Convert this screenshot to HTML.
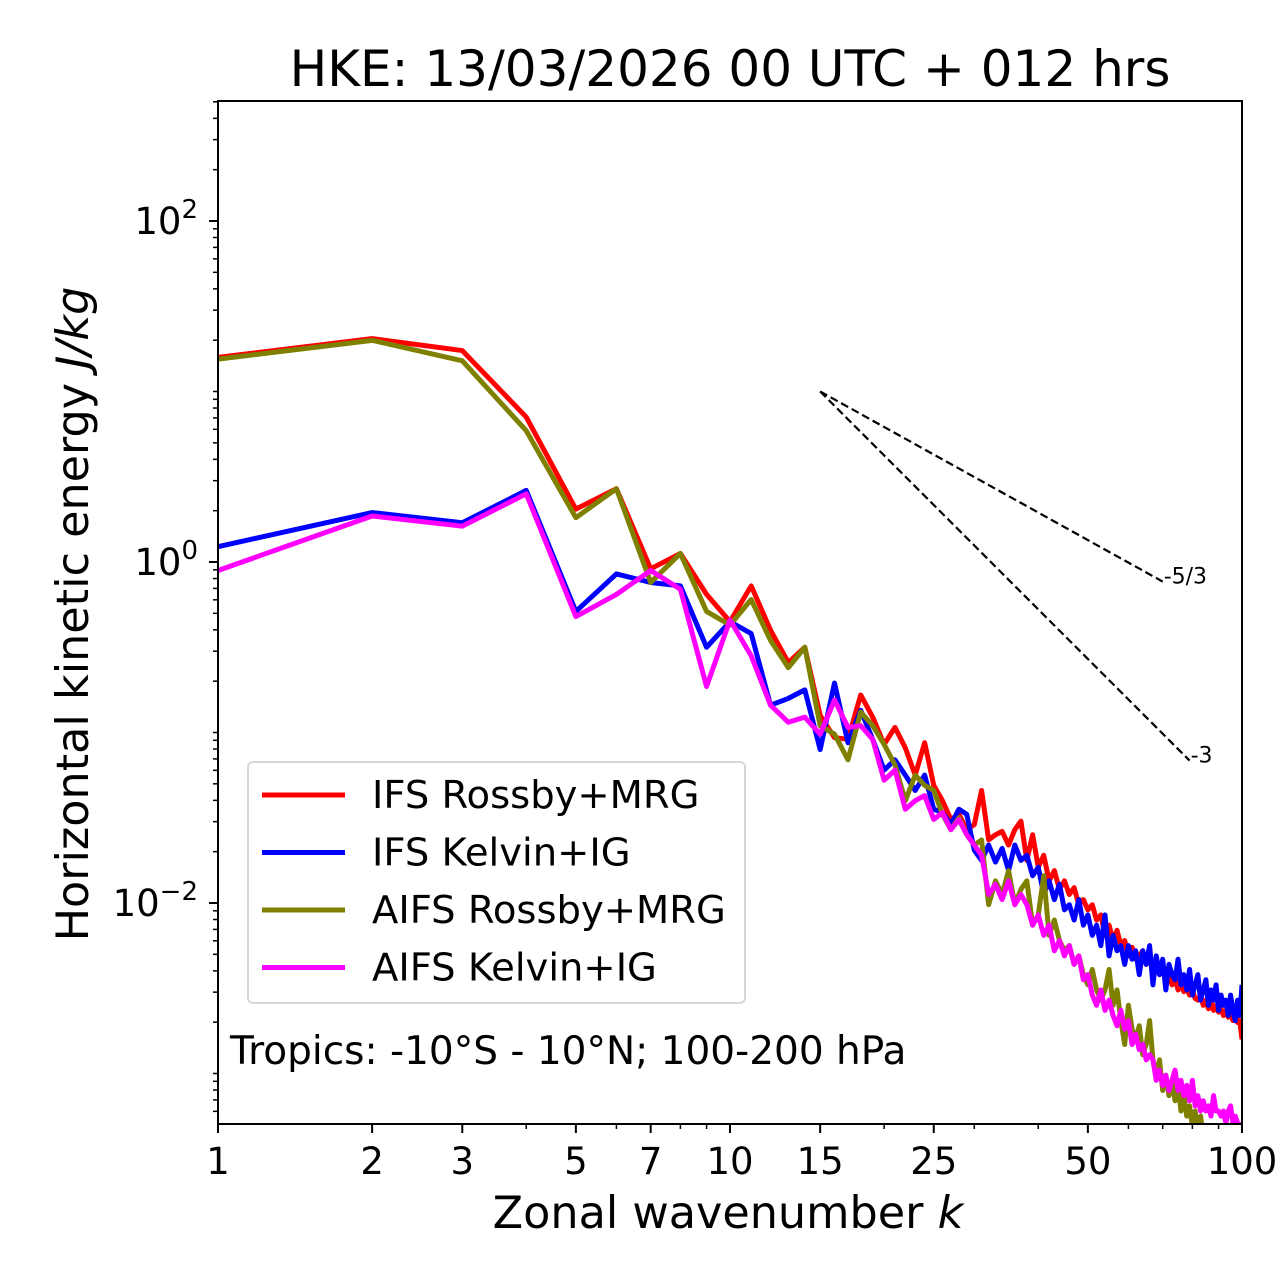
<!DOCTYPE html>
<html><head><meta charset="utf-8">
<style>
html,body{margin:0;padding:0;background:#fff;}
svg{display:block;font-family:"DejaVu Sans","Liberation Sans",sans-serif;}
</style></head>
<body>
<svg id="chart" width="1280" height="1288" viewBox="0 0 1280 1288" xmlns="http://www.w3.org/2000/svg">
<rect width="1280" height="1288" fill="#fff"/>
<text x="730" y="86" font-size="50" text-anchor="middle">HKE: 13/03/2026 00 UTC + 012 hrs</text>
<defs><clipPath id="plotclip"><rect x="218" y="101" width="1024" height="1023"/></clipPath></defs>
<g id="series" clip-path="url(#plotclip)"></g>
<g id="refs"></g>
<g id="axes"></g>
<text x="728" y="1228" font-size="44.5" text-anchor="middle">Zonal wavenumber <tspan font-style="italic">k</tspan></text>
<text transform="translate(88,614) rotate(-90)" font-size="44.5" text-anchor="middle">Horizontal kinetic energy <tspan font-style="italic">J/kg</tspan></text>
<g>
<rect x="248" y="762" width="497" height="241" rx="5" fill="#fff" fill-opacity="0.8" stroke="#d6d6d6" stroke-width="2"/>
<g id="legend-entries"></g>
</g>
<text x="230" y="1064" font-size="39">Tropics: -10°S - 10°N; 100-200 hPa</text>
</svg>
<script>
const wavenumbers = Array.from({length:100},(_,i)=>i+1);
const ifsRossbyLog = [1.20,1.31,1.24,0.85,0.31,0.43,-0.04,0.05,-0.19,-0.35,-0.14,-0.40,-0.59,-0.50,-0.90,-1.03,-1.04,-0.78,-0.91,-1.07,-0.97,-1.09,-1.25,-1.06,-1.31,-1.40,-1.51,-1.48,-1.57,-1.54,-1.34,-1.63,-1.60,-1.58,-1.66,-1.57,-1.52,-1.75,-1.60,-1.79,-1.72,-1.87,-1.81,-1.92,-1.87,-1.95,-1.91,-2.01,-1.98,-2.04,-2.01,-2.10,-2.07,-2.19,-2.13,-2.22,-2.16,-2.25,-2.22,-2.31,-2.26,-2.33,-2.31,-2.28,-2.36,-2.33,-2.40,-2.38,-2.42,-2.39,-2.45,-2.42,-2.48,-2.44,-2.51,-2.48,-2.52,-2.50,-2.54,-2.51,-2.56,-2.57,-2.54,-2.60,-2.57,-2.62,-2.58,-2.63,-2.60,-2.64,-2.62,-2.66,-2.63,-2.67,-2.64,-2.69,-2.66,-2.70,-2.69,-2.80];
const ifsKelvinLog = [0.09,0.29,0.23,0.42,-0.29,-0.07,-0.12,-0.14,-0.50,-0.35,-0.42,-0.84,-0.80,-0.75,-1.10,-0.71,-1.06,-0.87,-1.04,-1.22,-1.16,-1.25,-1.34,-1.25,-1.45,-1.47,-1.54,-1.45,-1.48,-1.69,-1.75,-1.66,-1.76,-1.68,-1.81,-1.66,-1.75,-1.72,-1.84,-1.79,-1.95,-1.87,-1.98,-1.89,-2.04,-2.01,-2.10,-1.98,-2.13,-2.07,-2.19,-2.13,-2.25,-2.07,-2.31,-2.19,-2.28,-2.25,-2.36,-2.25,-2.33,-2.28,-2.42,-2.28,-2.36,-2.25,-2.48,-2.31,-2.42,-2.33,-2.51,-2.36,-2.42,-2.45,-2.33,-2.48,-2.42,-2.51,-2.39,-2.54,-2.48,-2.42,-2.57,-2.51,-2.45,-2.60,-2.51,-2.57,-2.48,-2.63,-2.54,-2.60,-2.57,-2.66,-2.54,-2.63,-2.69,-2.57,-2.66,-2.48];
const aifsRossbyLog = [1.19,1.30,1.18,0.77,0.26,0.43,-0.12,0.05,-0.29,-0.37,-0.22,-0.46,-0.62,-0.50,-0.96,-1.01,-1.16,-0.88,-0.96,-1.07,-1.19,-1.40,-1.25,-1.31,-1.34,-1.48,-1.57,-1.50,-1.60,-1.66,-1.63,-2.01,-1.87,-1.95,-1.81,-2.01,-1.92,-1.87,-2.13,-2.07,-1.84,-2.19,-2.10,-2.22,-2.28,-2.25,-2.36,-2.31,-2.42,-2.48,-2.39,-2.51,-2.57,-2.51,-2.39,-2.60,-2.51,-2.69,-2.83,-2.60,-2.74,-2.80,-2.72,-2.89,-2.83,-2.69,-2.92,-3.01,-2.92,-3.10,-3.01,-3.13,-3.04,-3.16,-3.07,-3.22,-3.13,-3.25,-3.19,-3.31,-3.22,-3.34,-3.25,-3.37,-3.40,-3.35,-3.45,-3.40,-3.50,-3.45,-3.50,-3.55,-3.50,-3.60,-3.55,-3.60,-3.65,-3.60,-3.70,-3.65];
const aifsKelvinLog = [-0.05,0.27,0.21,0.40,-0.32,-0.19,-0.05,-0.16,-0.73,-0.34,-0.55,-0.84,-0.94,-0.91,-1.01,-0.81,-0.97,-0.96,-1.04,-1.28,-1.22,-1.45,-1.40,-1.37,-1.51,-1.47,-1.57,-1.51,-1.60,-1.66,-1.72,-1.95,-1.89,-1.98,-1.87,-2.01,-1.95,-2.01,-2.13,-2.07,-2.19,-2.13,-2.28,-2.22,-2.31,-2.25,-2.36,-2.31,-2.45,-2.42,-2.54,-2.60,-2.51,-2.63,-2.57,-2.66,-2.72,-2.63,-2.74,-2.69,-2.83,-2.77,-2.86,-2.83,-2.92,-2.89,-2.92,-3.04,-2.98,-3.07,-3.01,-3.10,-3.04,-2.98,-3.10,-3.04,-3.13,-3.07,-3.16,-3.04,-3.19,-3.13,-3.22,-3.16,-3.22,-3.19,-3.25,-3.13,-3.22,-3.22,-3.25,-3.22,-3.29,-3.22,-3.19,-3.29,-3.25,-3.29,-3.31,-3.29];
const seriesNames = ["IFS Rossby+MRG","IFS Kelvin+IG","AIFS Rossby+MRG","AIFS Kelvin+IG"];
const seriesColors = ["#ff0000","#0000ff","#808000","#ff00ff"];
const xTickValues = [1,2,3,5,7,10,15,25,50,100];
const xTickLabels = ["1","2","3","5","7","10","15","25","50","100"];
const xMinorValues = [4,6,8,9,20,30,40,60,70,80,90];
const yMajorExponents = [2,0,-2];
const slopeStartK = 15, slopeStartE = 10;
const slopeExps = [-5/3,-3], slopeEndK = [70,79], slopeLabels = ["-5/3","-3"];

const NS="http://www.w3.org/2000/svg";
const X0=218,X1=1242,Y0=101,Y1=1124;
const xLogMin=0,xLogMax=2, yLogMin=-3.2962,yLogMax=2.7038;
function xs(k){return X0+(Math.log10(k)-xLogMin)/(xLogMax-xLogMin)*(X1-X0);}
function ys(e){return Y1-(Math.log10(e)-yLogMin)/(yLogMax-yLogMin)*(Y1-Y0);}
function mk(tag,attrs,parent){const el=document.createElementNS(NS,tag);for(const k in attrs)el.setAttribute(k,attrs[k]);parent.appendChild(el);return el;}

const sg=document.getElementById('series');
const allLogs=[ifsRossbyLog,ifsKelvinLog,aifsRossbyLog,aifsKelvinLog];
allLogs.forEach((arr,si)=>{
  const d=arr.map((v,i)=>(i?'L':'M')+xs(wavenumbers[i]).toFixed(2)+','+ys(Math.pow(10,v)).toFixed(2)).join(' ');
  const p=mk('path',{d:d,fill:'none',stroke:seriesColors[si],'stroke-width':5,'stroke-linejoin':'round'},sg);
  
  
});

const rg=document.getElementById('refs');
slopeExps.forEach((s,i)=>{
  const e2=slopeStartE*Math.pow(slopeEndK[i]/slopeStartK,s);
  const l=mk('line',{x1:xs(slopeStartK),y1:ys(slopeStartE),x2:xs(slopeEndK[i]),y2:ys(e2),stroke:'#000','stroke-width':2.2,'stroke-dasharray':'8,4'},rg);
  
  
  const t=mk('text',{x:xs(slopeEndK[i])+1,y:ys(e2)+2,'font-size':22},rg);
  t.textContent=slopeLabels[i];
  
  
});

const ag=document.getElementById('axes');
const fr=mk('rect',{x:X0,y:Y0,width:X1-X0,height:Y1-Y0,fill:'none',stroke:'#000','stroke-width':2},ag);


xTickValues.forEach((v,i)=>{
  const x=xs(v);
  mk('line',{x1:x,y1:Y1,x2:x,y2:Y1+9,stroke:'#000','stroke-width':2},ag);
  const t=mk('text',{x:x,y:1174,'font-size':37,'text-anchor':'middle'},ag);
  t.textContent=xTickLabels[i];
  
  
});
xMinorValues.forEach(v=>{const x=xs(v);mk('line',{x1:x,y1:Y1,x2:x,y2:Y1+5,stroke:'#000','stroke-width':1.5},ag);});
for(let d=-4;d<=2;d++){for(let m=1;m<10;m++){
  const e=m*Math.pow(10,d);const y=ys(e);
  if(y<Y0-0.5||y>Y1+0.5)continue;
  const major=(m===1&&yMajorExponents.includes(d));
  mk('line',{x1:X0,y1:y,x2:X0-(major?9:5),y2:y,stroke:'#000','stroke-width':major?2:1.5},ag);
}}
yMajorExponents.forEach(d=>{
  const y=ys(Math.pow(10,d));
  const t=mk('text',{x:198,y:y+13,'font-size':37,'text-anchor':'end'},ag);
  
  
  const a=mk('tspan',{},t);a.textContent='10';
  const b=mk('tspan',{dy:-16,'font-size':26},t);b.textContent=(d<0?'\u2212':'')+Math.abs(d);
});

const lg=document.getElementById('legend-entries');
seriesNames.forEach((n,i)=>{
  const y=795+i*57.5;
  const l=mk('line',{x1:262,y1:y,x2:345,y2:y,stroke:seriesColors[i],'stroke-width':5},lg);
  
  
  const t=mk('text',{x:372,y:y+13,'font-size':38.5},lg);
  t.textContent=n;
  
  
});
</script>
</body></html>
